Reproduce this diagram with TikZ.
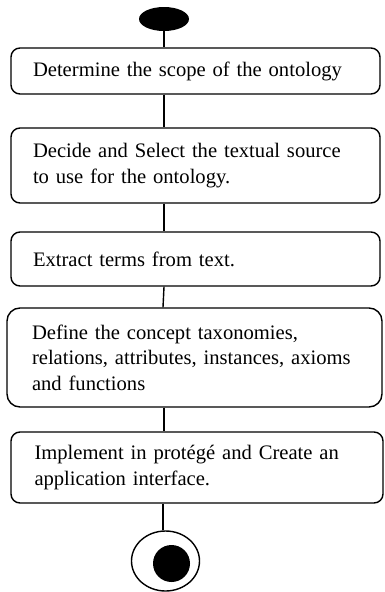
\documentclass[tikz,border=0pt]{standalone}
\usepackage{fontspec}
\setmainfont{Liberation Serif}
\usetikzlibrary{shapes.geometric}
\begin{document}
\begin{tikzpicture}[x=1pt,y=-1pt,
  actbox/.style={draw,line width=1.4pt,rounded corners=9pt,rectangle,
    align=left,inner xsep=22pt,inner ysep=0pt,
    font=\fontsize{20.6}{25.5}\selectfont},
  conn/.style={line width=1.4pt}]
\useasboundingbox (0,0) rectangle (385,592);
\node[ellipse,fill=black,minimum width=50pt,minimum height=24pt,inner sep=0pt] (start) at (164,19) {};
\node[actbox,text width=325pt,minimum height=46pt] (b1) at (195.5,71) {Determine the scope of the ontology};
\node[actbox,text width=325pt,minimum height=75pt] (b2) at (195.5,165.5) {Decide and Select the textual source\\to use for the ontology.};
\node[actbox,text width=325pt,minimum height=54pt] (b3) at (195.5,259) {Extract terms from text.};
\node[actbox,text width=325pt,inner xsep=25pt,minimum height=99pt,rounded corners=13pt] (b4) at (194.5,357.5) {Define the concept taxonomies,\\relations, attributes, instances, axioms\\and functions};
\node[actbox,text width=325pt,inner xsep=23.5pt,minimum height=71pt] (b5) at (197,467.5) {Implement in protégé and Create an\\application interface.};
\node[ellipse,draw,line width=1.4pt,minimum width=68pt,minimum height=60pt,inner sep=0pt] (end) at (165.5,561) {};
\node[circle,fill=black,minimum size=37pt,inner sep=0pt] (endin) at (171.5,563.5) {};
\draw[conn] (start.south) -- (start.south |- b1.north);
\draw[conn] (start.south |- b1.south) -- (start.south |- b2.north);
\draw[conn] (start.south |- b2.south) -- (start.south |- b3.north);
\draw[conn] (start.south |- b3.south) -- ([xshift=-1pt]start.south |- b4.north);
\draw[conn] (start.south |- b4.south) -- (start.south |- b5.north);
\draw[conn] ([xshift=-1pt]start.south |- b5.south) -- ([xshift=-1pt]start.south |- end.north);
\end{tikzpicture}
\end{document}
